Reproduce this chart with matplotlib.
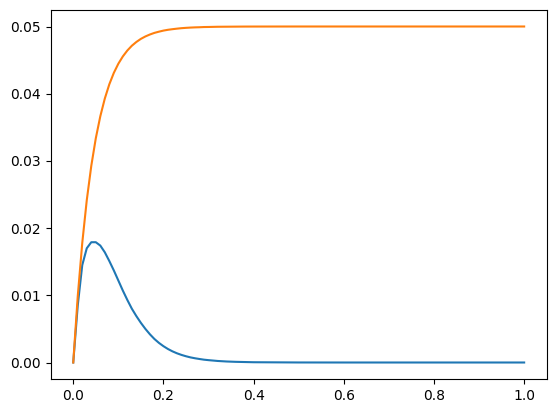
import matplotlib
matplotlib.use("Agg")
import matplotlib.pyplot as plt

t = [0.00, 0.01, 0.02, 0.03, 0.04, 0.05, 0.06, 0.07, 0.08, 0.09,
     0.10, 0.11, 0.12, 0.13, 0.14, 0.15, 0.16, 0.17, 0.18, 0.19,
     0.20, 0.21, 0.22, 0.23, 0.24, 0.25, 0.26, 0.27, 0.28, 0.29,
     0.30, 0.32, 0.34, 0.36, 0.38, 0.40, 0.5, 0.6, 0.7, 0.8, 0.9, 1.0]

blue = [0.0000, 0.0085, 0.0145, 0.0170, 0.0179, 0.0179, 0.0174, 0.0164, 0.0151, 0.0137,
        0.0122, 0.0107, 0.0093, 0.0080, 0.0069, 0.0059, 0.0050, 0.0042, 0.00350, 0.00292,
        0.00243, 0.00201, 0.00166, 0.00137, 0.00113, 0.00093, 0.00076, 0.00063, 0.00052, 0.00042,
        0.00035, 0.00023, 0.00015, 0.00010, 0.00007, 0.00004, 0.000005, 0.0, 0.0, 0.0, 0.0, 0.0]

orange = [0.0, 0.009875, 0.01780, 0.02416, 0.02926, 0.03336, 0.03664, 0.03928, 0.04140, 0.04310,
          0.04446, 0.04555, 0.04643, 0.04714, 0.04770, 0.04816, 0.04852, 0.04881, 0.04905, 0.04923,
          0.04939, 0.04951, 0.04960, 0.04968, 0.04975, 0.04980, 0.04984, 0.04987, 0.04989, 0.04992,
          0.04993, 0.04996, 0.04997, 0.04998, 0.04999, 0.049993, 0.05, 0.05, 0.05, 0.05, 0.05, 0.05]

fig = plt.figure(figsize=(5.56, 4.13), dpi=100)
ax = fig.add_axes([50.7 / 556, 33.7 / 413, 496 / 556, 369.6 / 413])
ax.plot(t, blue, color="#1f77b4")
ax.plot(t, orange, color="#ff7f0e")
fig.savefig("out.png", dpi=100)
